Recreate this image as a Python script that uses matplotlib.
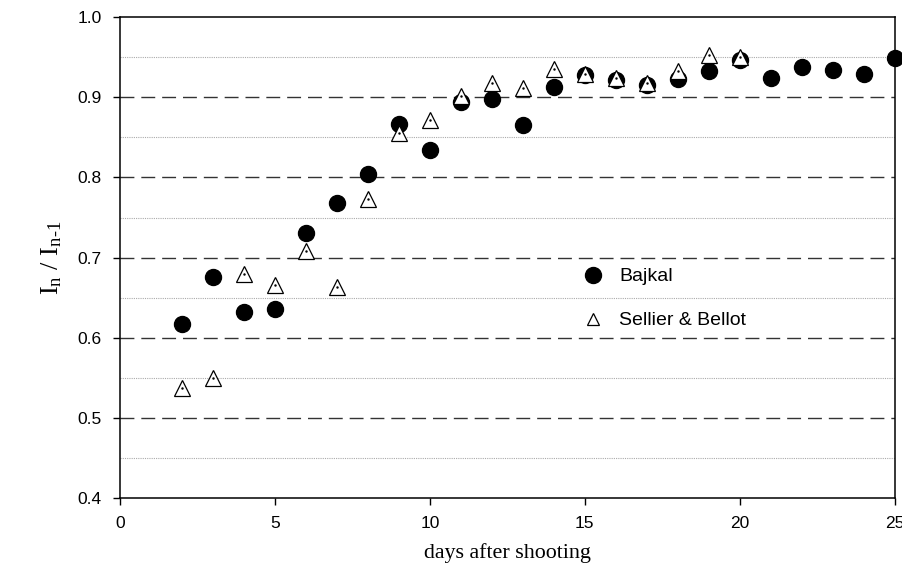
import numpy as np
import matplotlib.pyplot as plt

# days after shooting
days_bajkal = [2, 3, 4, 5, 6, 7, 8, 9, 10, 11, 12, 13, 14, 15, 16, 17, 18, 19, 20, 21, 22, 23, 24, 25]
ratio_bajkal = [0.617, 0.676, 0.632, 0.636, 0.731, 0.768, 0.804, 0.867, 0.834, 0.894, 0.898, 0.866,
                0.913, 0.928, 0.922, 0.915, 0.923, 0.933, 0.947, 0.924, 0.938, 0.934, 0.929, 0.949]

days_sb = [2, 3, 4, 5, 6, 7, 8, 9, 10, 11, 12, 13, 14, 15, 16, 17, 18, 19, 20]
ratio_sb = [0.537, 0.550, 0.679, 0.666, 0.708, 0.663, 0.773, 0.855, 0.872, 0.902, 0.918, 0.912,
            0.935, 0.929, 0.924, 0.918, 0.933, 0.953, 0.950]

x_ticks = [0, 5, 10, 15, 20, 25]
y_ticks = [0.4, 0.5, 0.6, 0.7, 0.8, 0.9, 1.0]
y_minor = [0.45, 0.55, 0.65, 0.75, 0.85, 0.95]

plt.rcParams['font.family'] = ['Liberation Sans', 'DejaVu Sans']
plt.rcParams['mathtext.fontset'] = 'custom'
plt.rcParams['mathtext.rm'] = 'Liberation Serif'
plt.rcParams['mathtext.it'] = 'Liberation Serif'

fig = plt.figure(figsize=(9.03, 5.69), dpi=100)
ax = fig.add_axes([0.1329, 0.1248, 0.858, 0.845])

# grid lines
for y in y_ticks[1:-1]:
    ax.axhline(y, color='#333333', lw=1.0, ls=(0, (10, 5)), zorder=1)
for y in y_minor:
    ax.axhline(y, color='#aaaaaa', lw=0.8, ls=(0, (1, 1)), zorder=1)

ax.plot(days_bajkal, ratio_bajkal, 'o', color='black', markersize=11.5, ls='none',
        zorder=3, clip_on=False)
ax.plot(days_sb, ratio_sb, '^', markerfacecolor='white', markeredgecolor='black',
        markeredgewidth=0.9, markersize=11, ls='none', zorder=4)
ax.plot(days_sb, ratio_sb, '.', color='black', markersize=1.5, ls='none', zorder=5)

# legend entries drawn as proxy handles
h1, = ax.plot([], [], 'o', color='black', markersize=11.5, ls='none')
h2, = ax.plot([], [], '^', markerfacecolor='white', markeredgecolor='black',
              markeredgewidth=0.9, markersize=9, ls='none')
leg = ax.legend([h1, h2], ['Bajkal', 'Sellier & Bellot'], loc='upper left',
                bbox_to_anchor=(0.573, 0.515), frameon=False, fontsize=14,
                labelspacing=1.35, handletextpad=0.75, handlelength=1.2)

ax.set_xlim(0, 25)
ax.set_ylim(0.4, 1.0)
ax.set_xticks(x_ticks)
ax.set_yticks(y_ticks)
ax.set_yticklabels([f'{v:.1f}' for v in y_ticks])
ax.tick_params(direction='out', length=5, width=1, labelsize=12.5, pad=8)

for s in ax.spines.values():
    s.set_linewidth(1.1)

ax.set_xlabel('days after shooting', family='Liberation Serif', fontsize=15.8, labelpad=9)
ax.set_ylabel(r'$\mathregular{I_n\ /\ I_{n\text{-}1}}$', family='Liberation Serif',
              fontsize=19, labelpad=10)

plt.savefig('out.png', dpi=100)
